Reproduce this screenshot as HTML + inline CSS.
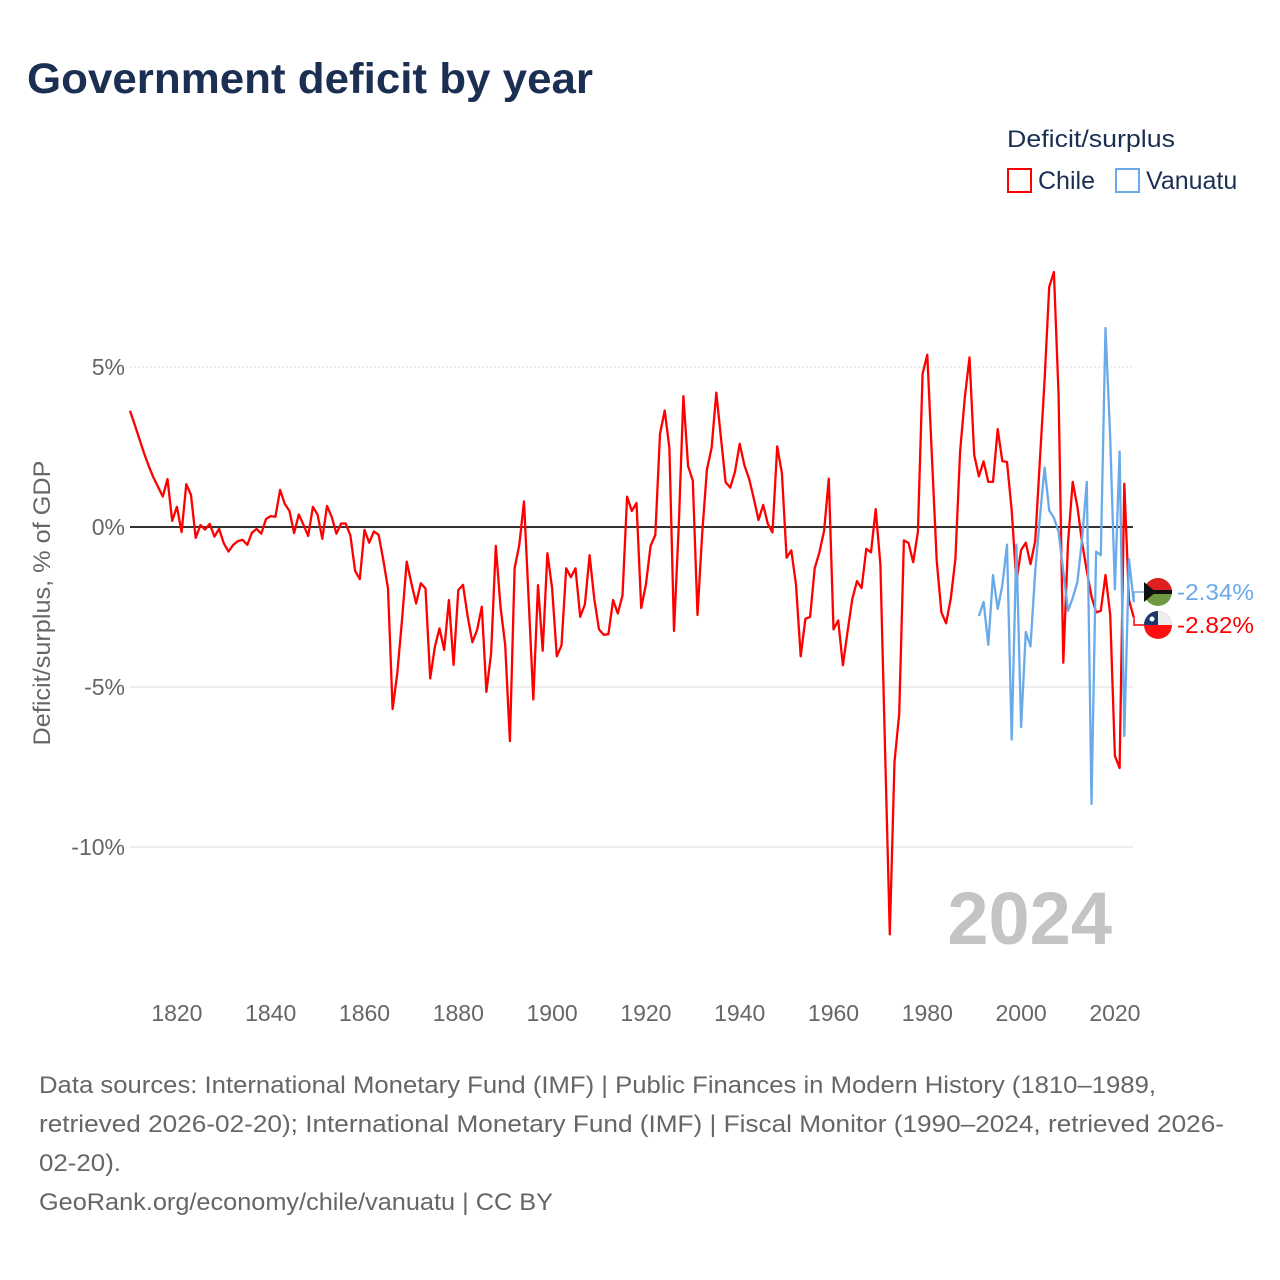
<!DOCTYPE html>
<html><head><meta charset="utf-8">
<style>
body{margin:0;background:#fff;font-family:"Liberation Sans",sans-serif;}
#wrap{position:relative;width:1280px;height:1280px;overflow:hidden;}
</style></head>
<body>
<div id="wrap">
<svg id="chart" width="1280" height="1280" xmlns="http://www.w3.org/2000/svg">
  <text x="27" y="93" font-size="43" font-weight="bold" fill="#1b2f52" textLength="566" lengthAdjust="spacingAndGlyphs">Government deficit by year</text>
  <text x="1007" y="147" font-size="24" fill="#1b2f52" textLength="168" lengthAdjust="spacingAndGlyphs">Deficit/surplus</text>
  <g>
    <rect x="1008" y="169" width="23" height="23" fill="none" stroke="#ff0000" stroke-width="2"/>
    <text x="1038" y="189" font-size="25" fill="#1b2f52">Chile</text>
  </g>
  <g>
    <rect x="1116" y="169" width="23" height="23" fill="none" stroke="#6aaae8" stroke-width="2"/>
    <text x="1146" y="189" font-size="25" fill="#1b2f52">Vanuatu</text>
  </g>
  <g id="grid"></g>
  <g id="yticks"></g>
  <g id="xticks"></g>
  <text x="0" y="0" transform="translate(50,603) rotate(-90)" text-anchor="middle" font-size="24" fill="#666" textLength="285" lengthAdjust="spacingAndGlyphs">Deficit/surplus, % of GDP</text>
  <text x="1112" y="944" text-anchor="end" font-size="74" font-weight="bold" fill="#c4c4c4">2024</text>
  <g id="series"></g>
  <g id="endlabels"></g>
  <g font-size="24" fill="#666">
    <text x="39" y="1093" textLength="1117" lengthAdjust="spacingAndGlyphs">Data sources: International Monetary Fund (IMF) | Public Finances in Modern History (1810–1989,</text>
    <text x="39" y="1132" textLength="1185" lengthAdjust="spacingAndGlyphs">retrieved 2026-02-20); International Monetary Fund (IMF) | Fiscal Monitor (1990–2024, retrieved 2026-</text>
    <text x="39" y="1171" textLength="82" lengthAdjust="spacingAndGlyphs">02-20).</text>
    <text x="39" y="1210" textLength="514" lengthAdjust="spacingAndGlyphs">GeoRank.org/economy/chile/vanuatu | CC BY</text>
  </g>
</svg>
</div>
<script>
const chileStartYear = 1810;
const chileValues = [3.63,3.2,2.75,2.3,1.9,1.55,1.25,0.95,1.5,0.19,0.63,-0.16,1.34,1.0,-0.34,0.06,-0.08,0.1,-0.3,-0.06,
-0.51,-0.77,-0.56,-0.44,-0.4,-0.56,-0.18,-0.06,-0.21,0.25,0.34,0.32,1.16,0.72,0.5,-0.19,0.39,0.07,-0.28,0.63,
0.38,-0.37,0.66,0.32,-0.21,0.11,0.11,-0.27,-1.37,-1.63,-0.09,-0.49,-0.14,-0.24,-1.03,-1.92,-5.69,-4.57,-2.91,-1.08,
-1.76,-2.39,-1.76,-1.92,-4.73,-3.74,-3.17,-3.84,-2.28,-4.31,-1.97,-1.81,-2.8,-3.6,-3.22,-2.49,-5.15,-3.95,-0.59,-2.49,
-3.69,-6.69,-1.29,-0.56,0.8,-2.3,-5.39,-1.82,-3.87,-0.82,-1.91,-4.04,-3.7,-1.29,-1.57,-1.29,-2.81,-2.42,-0.88,-2.25,
-3.2,-3.37,-3.35,-2.28,-2.7,-2.14,0.95,0.5,0.75,-2.53,-1.8,-0.59,-0.25,2.91,3.64,2.47,-3.25,0.0,4.09,1.9,
1.45,-2.75,-0.2,1.79,2.47,4.2,2.8,1.4,1.23,1.73,2.6,1.93,1.51,0.89,0.22,0.69,0.1,-0.17,2.52,1.68,
-0.96,-0.73,-1.8,-4.04,-2.87,-2.81,-1.29,-0.79,-0.12,1.51,-3.2,-2.92,-4.32,-3.26,-2.25,-1.69,-1.91,-0.68,-0.79,0.56,
-1.18,-7.0,-12.73,-7.34,-5.84,-0.42,-0.5,-1.1,-0.15,4.79,5.38,2.14,-1.05,-2.67,-3.01,-2.23,-1.0,2.36,4.04,5.3,
2.25,1.58,2.05,1.41,1.41,3.06,2.06,2.03,0.52,-1.72,-0.72,-0.49,-1.16,-0.44,2.1,4.6,7.5,7.97,4.1,-4.24,
-0.5,1.41,0.63,-0.49,-1.37,-2.17,-2.67,-2.62,-1.5,-2.73,-7.15,-7.53,1.35,-2.28,-2.82];
const vanuatuStartYear = 1991;
const vanuatuValues = [-2.78,-2.34,-3.68,-1.5,-2.56,-1.83,-0.55,-6.64,-0.55,-6.25,-3.28,-3.73,-1.39,0.3,1.86,0.52,0.29,-0.16,-1.39,-2.62,
-2.22,-1.72,-0.37,1.41,-8.65,-0.77,-0.88,6.22,2.8,-1.95,2.36,-6.53,-1.0,-2.34];
const yTickValues = [5,0,-5,-10];
const yTickLabels = ["5%","0%","-5%","-10%"];
const xTickYears = [1820,1840,1860,1880,1900,1920,1940,1960,1980,2000,2020];

const NS="http://www.w3.org/2000/svg";
const X0=130, X1=1133;
function xScale(year){return 130 + (year-1810)*4.69;}
function yScale(v){return 527 - v*32;}
function mk(tag,attrs,parent){const e=document.createElementNS(NS,tag);for(const k in attrs)e.setAttribute(k,attrs[k]);parent.appendChild(e);return e;}

const grid=document.getElementById('grid');
const yt=document.getElementById('yticks');
yTickValues.forEach((v,i)=>{
  const l=mk('line',{x1:X0,x2:X1,y1:yScale(v),y2:yScale(v),stroke:v===0?'#333':'#dddddd','stroke-width':v===0?2:1,'stroke-dasharray':v===5?'2,2':'none'},grid);
  
  
  const t=mk('text',{x:125,y:yScale(v)+8,'text-anchor':'end','font-size':23,fill:'#666'},yt);
  t.textContent=yTickLabels[i];
  
  
});
const xt=document.getElementById('xticks');
xTickYears.forEach(y=>{
  const t=mk('text',{x:xScale(y),y:1021,'text-anchor':'middle','font-size':23,fill:'#666'},xt);
  t.textContent=String(y);
  
  
});

const series=document.getElementById('series');
function drawLine(start,vals,color,name){
  const d=vals.map((v,i)=>(i?'L':'M')+xScale(start+i).toFixed(1)+','+yScale(v).toFixed(1)).join(' ');
  const p=mk('path',{d:d,fill:'none',stroke:color,'stroke-width':2.3,'stroke-linejoin':'round'},series);
  
  
}
drawLine(chileStartYear,chileValues,'#ff0000','chile-line');
drawLine(vanuatuStartYear,vanuatuValues,'#6aaae8','vanuatu-line');

const el=document.getElementById('endlabels');
function endLabel(lastVal,labelY,color,name,flag){
  const lx=xScale(2024), ly=yScale(lastVal);
  const c=mk('path',{d:`M${lx},${ly} L1134,${ly} L1134,${labelY} L1144,${labelY}`,fill:'none',stroke:color,'stroke-width':1.5},el);
  
  
  const g=mk('g',{},el);
  
  
  flag(g,1158,labelY);
  const t=mk('text',{x:1177,y:labelY+8,'font-size':23,fill:color,textLength:77,lengthAdjust:'spacingAndGlyphs'},el);
  t.textContent=lastVal.toFixed(2)+'%';
  
  
}
const vLast=vanuatuValues[vanuatuValues.length-1], cLast=chileValues[chileValues.length-1];
endLabel(vLast,592,'#6aaae8','vanuatu',(g,cx,cy)=>{
  mk('circle',{cx:cx,cy:cy,r:14,fill:'#6f9a42'},g);
  mk('path',{d:`M${cx-14},${cy} A14,14 0 0 1 ${cx+14},${cy} Z`,fill:'#e02020'},g);
  mk('rect',{x:cx-14,y:cy-2,width:28,height:4,fill:'#111'},g);
  mk('path',{d:`M${cx-14},${cy-10} L${cx-2},${cy} L${cx-14},${cy+10} Z`,fill:'#111'},g);
});
endLabel(cLast,625,'#ff0000','chile',(g,cx,cy)=>{
  mk('circle',{cx:cx,cy:cy,r:14,fill:'#ff1010'},g);
  mk('path',{d:`M${cx-14},${cy} A14,14 0 0 1 ${cx+14},${cy} Z`,fill:'#eeeeee'},g);
  mk('path',{d:`M${cx-14},${cy} A14,14 0 0 1 ${cx},${cy-14} L${cx},${cy} Z`,fill:'#1d3a6e'},g);
  mk('circle',{cx:cx-6,cy:cy-6,r:2.5,fill:'#fff'},g);
});
</script>
</body></html>
